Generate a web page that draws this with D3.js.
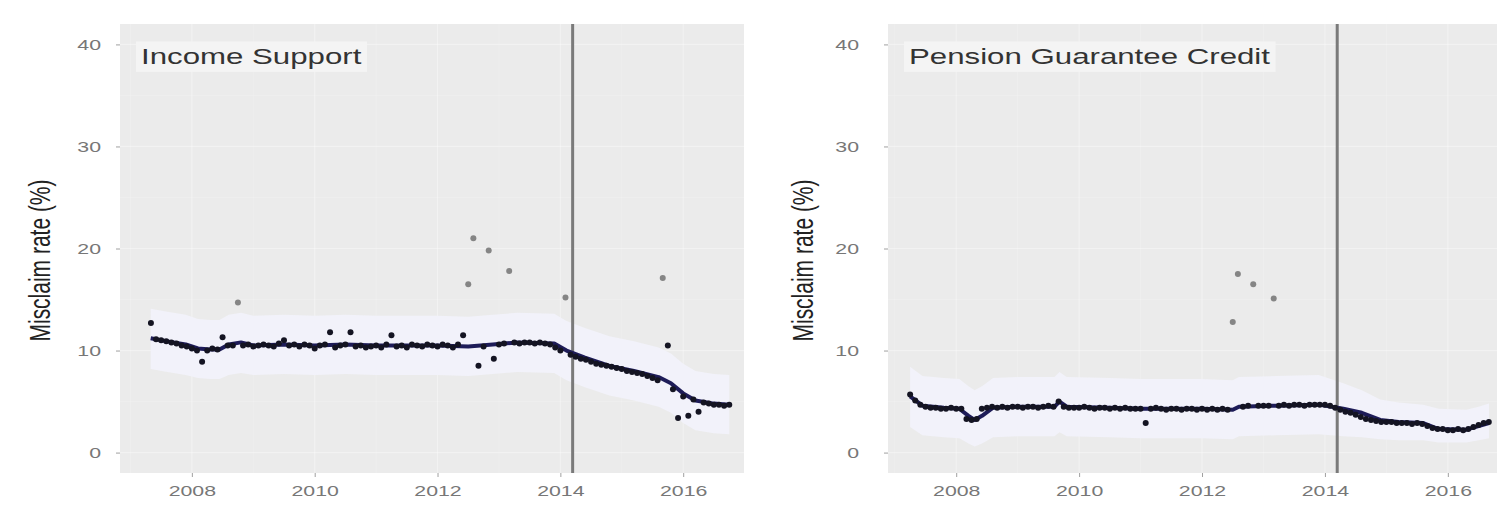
<!DOCTYPE html>
<html>
<head>
<meta charset="utf-8">
<script src="https://cdn.jsdelivr.net/npm/d3@7"></script>
<style>
  html, body { margin: 0; padding: 0; background: #ffffff; overflow: hidden; }
  svg { display: block; }
  text { font-family: "Liberation Sans", Arial, Helvetica, sans-serif; }
</style>
</head>
<body>
<svg id="chart" width="1501" height="519"></svg>
<script>
// ---- shared axis settings -------------------------------------------------
const yTicks = [0, 10, 20, 30, 40];
const xTicks = [2008, 2010, 2012, 2014, 2016];
const xMinorTicks = [2007, 2009, 2011, 2013, 2015];
const yMinorTicks = [5, 15, 25, 35];
const policyChange = 2014.2;          // vertical reference line
const yAxisTitle = "Misclaim rate (%)";

// ---- Income Support: monthly misclaim rate, May 2007 - Oct 2016 -----------
const isTitle = "Income Support";
const isStart = [2007, 5];
const isRate = [
  12.7, 11.1, 11.0, 10.9, 10.8, 10.7, 10.5, 10.4,                  // 2007
  10.2, 10.0, 8.9, 10.0, 10.2, 10.1, 11.3, 10.5, 10.5, 14.7, 10.5, 10.6, // 2008
  10.4, 10.5, 10.6, 10.5, 10.4, 10.7, 11.0, 10.5, 10.6, 10.4, 10.6, 10.5, // 2009
  10.2, 10.5, 10.6, 11.8, 10.3, 10.5, 10.6, 11.8, 10.4, 10.5, 10.3, 10.4, // 2010
  10.5, 10.3, 10.6, 11.5, 10.4, 10.5, 10.3, 10.6, 10.5, 10.4, 10.6, 10.5, // 2011
  10.4, 10.6, 10.5, 10.3, 10.6, 11.5, 16.5, 21.0, 8.5, 10.4, 19.8, 9.2,   // 2012
  10.6, 10.7, 17.8, 10.8, 10.7, 10.8, 10.8, 10.7, 10.8, 10.7, 10.6, 10.3, // 2013
  10.0, 15.2, 9.6, 9.4, 9.2, 9.1, 8.9, 8.7, 8.6, 8.5, 8.4, 8.3,           // 2014
  8.2, 8.0, 7.9, 7.8, 7.7, 7.5, 7.3, 7.1, 17.1, 10.5, 6.2, 3.4,           // 2015
  5.5, 3.6, 5.2, 4.0, 4.9, 4.8, 4.7, 4.7, 4.6, 4.7                        // 2016
];
// months excluded from the model fit (drawn in grey)
const isExcluded = ["2008-10", "2012-07", "2012-08", "2012-11", "2013-03", "2014-02", "2015-09"];
// fitted trend with its interval
const isFitYear = [2007.33, 2007.6, 2007.9, 2008.1, 2008.3, 2008.45, 2008.6, 2008.8, 2009.0, 2009.5,
                   2010.0, 2010.5, 2011.0, 2011.5, 2012.0, 2012.5, 2012.9, 2013.3, 2013.9, 2014.1,
                   2014.4, 2014.8, 2015.2, 2015.6, 2015.8, 2016.0, 2016.2, 2016.5, 2016.75];
const isFit     = [11.2, 10.9, 10.6, 10.2, 10.1, 10.1, 10.6, 10.8, 10.5, 10.6,
                   10.5, 10.6, 10.5, 10.5, 10.5, 10.4, 10.6, 10.8, 10.7, 10.0,
                   9.3, 8.5, 8.0, 7.4, 6.8, 5.8, 5.1, 4.8, 4.7];
const isFitLow  = [8.2, 7.9, 7.6, 7.3, 7.2, 7.2, 7.6, 7.8, 7.6, 7.7,
                   7.6, 7.7, 7.6, 7.6, 7.6, 7.5, 7.7, 7.9, 7.8, 7.1,
                   6.4, 5.6, 5.1, 4.5, 3.9, 2.9, 2.2, 1.9, 1.8];
const isFitHigh = [14.1, 13.8, 13.5, 13.1, 13.0, 13.0, 13.5, 13.7, 13.4, 13.5,
                   13.4, 13.5, 13.4, 13.4, 13.4, 13.3, 13.5, 13.7, 13.6, 12.9,
                   12.2, 11.4, 10.9, 10.3, 9.7, 8.7, 8.0, 7.7, 7.6];

// ---- Pension Guarantee Credit: monthly misclaim rate, Apr 2007 - Sep 2016 --
const pgcTitle = "Pension Guarantee Credit";
const pgcStart = [2007, 4];
const pgcRate = [
  5.7, 5.1, 4.7, 4.5, 4.4, 4.4, 4.3, 4.3, 4.4,                         // 2007
  4.3, 4.3, 3.3, 3.2, 3.3, 4.3, 4.4, 4.5, 4.4, 4.5, 4.4, 4.5,          // 2008
  4.5, 4.4, 4.5, 4.5, 4.4, 4.5, 4.6, 4.5, 5.0, 4.5, 4.4, 4.4,          // 2009
  4.4, 4.5, 4.4, 4.3, 4.4, 4.4, 4.3, 4.4, 4.3, 4.4, 4.3, 4.3,          // 2010
  4.3, 2.9, 4.3, 4.4, 4.3, 4.2, 4.3, 4.3, 4.2, 4.3, 4.3, 4.2,          // 2011
  4.3, 4.2, 4.3, 4.2, 4.3, 4.2, 12.8, 17.5, 4.5, 4.6, 16.5, 4.6,       // 2012
  4.6, 4.6, 15.1, 4.6, 4.7, 4.6, 4.7, 4.7, 4.6, 4.7, 4.7, 4.7,         // 2013
  4.7, 4.6, 4.4, 4.2, 4.0, 3.9, 3.7, 3.5, 3.3, 3.2, 3.1, 3.0,          // 2014
  3.0, 3.0, 2.9, 2.9, 2.9, 2.8, 2.9, 2.8, 2.6, 2.4, 2.3, 2.3,          // 2015
  2.2, 2.2, 2.3, 2.2, 2.3, 2.5, 2.7, 2.9, 3.0                          // 2016
];
const pgcExcluded = ["2012-07", "2012-08", "2012-11", "2013-03"];
const pgcFitYear = [2007.25, 2007.45, 2007.8, 2008.05, 2008.2, 2008.3, 2008.42, 2008.6, 2009.0, 2009.5,
                    2009.6, 2009.68, 2009.8, 2010.5, 2011.0, 2011.5, 2012.0, 2012.5, 2012.6, 2013.2,
                    2013.9, 2014.3, 2014.6, 2014.9, 2015.2, 2015.6, 2015.85, 2016.3, 2016.5, 2016.67];
const pgcFit     = [5.5, 4.6, 4.4, 4.3, 3.6, 3.2, 3.6, 4.4, 4.5, 4.5,
                    4.5, 5.0, 4.5, 4.4, 4.3, 4.3, 4.3, 4.2, 4.5, 4.6,
                    4.7, 4.3, 3.9, 3.2, 3.0, 2.9, 2.3, 2.25, 2.6, 2.9];
const pgcFitLow  = [2.5, 1.7, 1.5, 1.4, 0.9, 0.6, 0.9, 1.5, 1.6, 1.6,
                    1.6, 2.0, 1.6, 1.5, 1.4, 1.4, 1.4, 1.3, 1.6, 1.7,
                    1.8, 1.6, 1.5, 1.3, 1.2, 1.2, 1.0, 1.0, 1.2, 1.4];
const pgcFitHigh = [8.4, 7.5, 7.3, 7.2, 6.5, 6.1, 6.5, 7.3, 7.4, 7.4,
                    7.4, 7.9, 7.4, 7.3, 7.2, 7.2, 7.2, 7.1, 7.4, 7.5,
                    7.6, 6.8, 6.1, 5.2, 4.9, 4.7, 4.3, 4.2, 4.5, 4.8];

// ---- helpers ---------------------------------------------------------------
const STRETCH = 1.42;   // horizontal text stretch used throughout the figure

function monthlyRecords(start, values, excluded) {
  return values.map((v, i) => {
    const total = start[0] * 12 + (start[1] - 1) + i;
    const yr = Math.floor(total / 12), m = total % 12;
    const key = yr + "-" + String(m + 1).padStart(2, "0");
    return { t: yr + m / 12, v: v, excluded: excluded.includes(key) };
  });
}
function fitRecords(years, fit, low, high) {
  return years.map((t, i) => ({ t: t, fit: fit[i], low: low[i], high: high[i] }));
}

const panels = [
  { title: isTitle, points: monthlyRecords(isStart, isRate, isExcluded),
    fit: fitRecords(isFitYear, isFit, isFitLow, isFitHigh),
    left: 120, right: 744, domain: [2006.83, 2016.99], labelEnd: 101, yTitleX: 50 },
  { title: pgcTitle, points: monthlyRecords(pgcStart, pgcRate, pgcExcluded),
    fit: fitRecords(pgcFitYear, pgcFit, pgcFitLow, pgcFitHigh),
    left: 888, right: 1497, domain: [2006.89, 2016.80], labelEnd: 859, yTitleX: 813 }
];

const panelTop = 24, panelBottom = 473;
const svg = d3.select("#chart");
const y = d3.scaleLinear().domain([-2, 42]).range([panelBottom, panelTop]);

panels.forEach(p => {
  const x = d3.scaleLinear().domain(p.domain).range([p.left, p.right]);
  const g = svg.append("g");

  // panel background
  g.append("rect")
    .attr("x", p.left).attr("y", panelTop)
    .attr("width", p.right - p.left).attr("height", panelBottom - panelTop)
    .attr("fill", "#ebebeb");

  // grid (faint white rules)
  const grid = g.append("g").attr("stroke", "#ffffff");
  grid.selectAll(".vminor").data(xMinorTicks).join("line")
    .attr("x1", d => x(d)).attr("x2", d => x(d)).attr("y1", panelTop).attr("y2", panelBottom)
    .attr("stroke-width", 0.7).attr("stroke-opacity", 0.25);
  grid.selectAll(".hminor").data(yMinorTicks).join("line")
    .attr("x1", p.left).attr("x2", p.right).attr("y1", d => y(d)).attr("y2", d => y(d))
    .attr("stroke-width", 0.7).attr("stroke-opacity", 0.25);
  grid.selectAll(".vmajor").data(xTicks).join("line")
    .attr("x1", d => x(d)).attr("x2", d => x(d)).attr("y1", panelTop).attr("y2", panelBottom)
    .attr("stroke-width", 1.2).attr("stroke-opacity", 0.35);
  grid.selectAll(".hmajor").data(yTicks).join("line")
    .attr("x1", p.left).attr("x2", p.right).attr("y1", d => y(d)).attr("y2", d => y(d))
    .attr("stroke-width", 1.2).attr("stroke-opacity", 0.35);

  // fitted interval
  g.append("path").datum(p.fit)
    .attr("fill", "#f2f2fa")
    .attr("d", d3.area().x(d => x(d.t)).y0(d => y(d.low)).y1(d => y(d.high)));

  // policy change line
  g.append("line")
    .attr("x1", x(policyChange)).attr("x2", x(policyChange))
    .attr("y1", panelTop).attr("y2", panelBottom)
    .attr("stroke", "#7a7a7a").attr("stroke-width", 3);

  // fitted trend
  g.append("path").datum(p.fit)
    .attr("fill", "none").attr("stroke", "#1e1c58").attr("stroke-width", 4)
    .attr("stroke-linejoin", "round")
    .attr("d", d3.line().x(d => x(d.t)).y(d => y(d.fit)));

  // monthly observations
  g.selectAll("circle.obs").data(p.points).join("circle")
    .attr("class", "obs")
    .attr("cx", d => x(d.t)).attr("cy", d => y(d.v)).attr("r", 3)
    .attr("fill", d => d.excluded ? "#858585" : "#141422");

  // title label
  const tx = p.left + 21, ty = 64;
  const title = g.append("text")
    .attr("transform", `translate(${tx},${ty}) scale(${STRETCH},1)`)
    .attr("font-size", 22).attr("fill", "#333333")
    .text(p.title);
  const bb = title.node().getBBox();
  g.insert("rect", "text")
    .attr("x", tx - 5).attr("y", ty + bb.y - 3)
    .attr("width", bb.width * STRETCH + 10).attr("height", bb.height + 6)
    .attr("fill", "#f4f4f4");

  // y axis
  const ya = g.append("g").attr("transform", `translate(${p.left},0)`)
    .call(d3.axisLeft(y).tickValues(yTicks).tickSize(4).tickFormat(d3.format("d")));
  ya.select(".domain").remove();
  ya.selectAll(".tick line").attr("stroke", "#a0a0a0").attr("stroke-width", 1);
  ya.selectAll(".tick text")
    .attr("x", 0).attr("dy", "0.35em")
    .attr("transform", `translate(${p.labelEnd - p.left},0) scale(${STRETCH},1)`)
    .attr("font-size", 15).attr("fill", "#777777").attr("text-anchor", "end");

  // x axis
  const xa = g.append("g").attr("transform", `translate(0,${panelBottom})`)
    .call(d3.axisBottom(x).tickValues(xTicks).tickSize(4).tickFormat(d3.format("d")));
  xa.select(".domain").remove();
  xa.selectAll(".tick line").attr("stroke", "#a0a0a0").attr("stroke-width", 1);
  xa.selectAll(".tick text")
    .attr("y", 0).attr("dy", "0.71em")
    .attr("transform", `translate(0,12) scale(${STRETCH},1)`)
    .attr("font-size", 15).attr("fill", "#777777");

  // y axis title
  svg.append("text")
    .attr("transform", `translate(${p.yTitleX},${(panelTop + panelBottom) / 2 + 12}) scale(${STRETCH},1) rotate(-90)`)
    .attr("text-anchor", "middle").attr("font-size", 21).attr("fill", "#222222")
    .text(yAxisTitle);
});
</script>
</body>
</html>
